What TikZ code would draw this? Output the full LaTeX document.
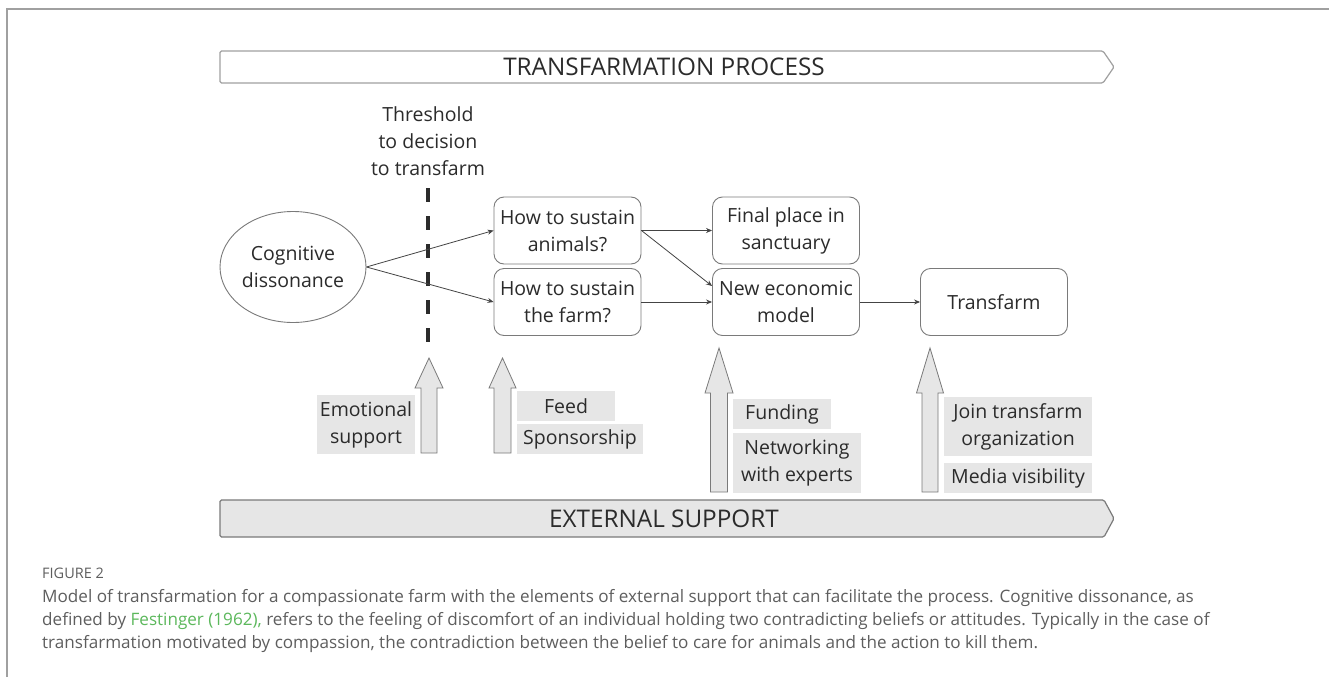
\documentclass[tikz,border=0pt]{standalone}
\usepackage{fontspec}
\setmainfont{Open Sans}
\usetikzlibrary{arrows.meta,shapes.geometric}
\definecolor{txt}{HTML}{2B2B2B}
\definecolor{edgec}{HTML}{7A7A7A}
\definecolor{lgray}{HTML}{E6E6E6}
\definecolor{capgray}{HTML}{5E5E5E}
\definecolor{capgreen}{HTML}{5CB85C}
\definecolor{framec}{HTML}{A0A0A0}
\definecolor{linec}{HTML}{444444}
\newcommand{\blockup}[6]{%
  \draw[blockarrow] ({#1-#5},#4) -- ({#1-#5},#3) -- ({#1-#6},#3) -- (#1,#2)
    -- ({#1+#6},#3) -- ({#1+#5},#3) -- ({#1+#5},#4) -- cycle;}
\begin{document}
\begin{tikzpicture}[x=1pt,y=-1pt,
  font=\fontsize{19.5}{27}\selectfont,
  every node/.style={text=txt},
  stepbox/.style={draw=edgec, line width=0.9pt, rounded corners=10pt, minimum width=147pt,
    minimum height=67pt, align=center, inner sep=0pt},
  lab/.style={fill=lgray, align=center, inner sep=0pt},
  conn/.style={draw=linec, line width=0.8pt, -{Stealth[length=6pt,width=5pt]}},
  blockarrow/.style={draw=edgec, fill=lgray, line width=0.8pt},
  bigtext/.style={font=\fontsize{24.3}{29}\selectfont},
  capline/.style={anchor=base west, text=capgray, font=\fontsize{17.1}{23}\selectfont, inner sep=0pt}]
\useasboundingbox (0,0) rectangle (1329,677);
\fill[white] (0,0) rectangle (1329,677);
% frame
\draw[framec, line width=1.5pt] (7,677) -- (7,9) -- (1329,9);
% process banner
\draw[draw=framec, fill=white, line width=1.2pt, rounded corners=1.5pt]
  (220,51) -- (1103,51) -- (1114,67) -- (1103,83) -- (220,83) -- cycle;
\node[bigtext] (tp) at (664,67) {TRANSFARMATION PROCESS};
% external support banner
\draw[draw=edgec, fill=lgray, line width=1.2pt, rounded corners=1.5pt]
  (220,500) -- (1104,500) -- (1114,518.5) -- (1104,537) -- (220,537) -- cycle;
\node[bigtext] (es) at (664,519) {EXTERNAL SUPPORT};
% threshold
\node[align=center, inner sep=0pt] (th) at (428,141) {Threshold\\to decision\\to transfarm};
\draw[draw=txt, line width=4pt, dash pattern=on 14pt off 14pt] (428,188) -- (428,345);
% nodes
\node[ellipse, draw=edgec, line width=0.9pt, minimum width=146pt, minimum height=111pt,
  align=center, inner sep=0pt] (cd) at (293,267) {Cognitive\\dissonance};
\node[stepbox] (sa) at (567.5,230.5) {How to sustain\\animals?};
\node[stepbox] (sf) at (567.5,302) {How to sustain\\the farm?};
\node[stepbox] (fp) at (786,230.5) {Final place in\\sanctuary};
\node[stepbox] (ne) at (786,302) {New economic\\model};
\node[stepbox] (tf) at (994,302) {Transfarm};
% connectors
\draw[conn] (cd.east) -- (sa.west);
\draw[conn] (cd.east) -- (sf.west);
\draw[conn] (sa.east) -- (fp.west);
\draw[conn] (sa.east) -- ([yshift=16pt]ne.west);
\draw[conn] (sf.east) -- (ne.west);
\draw[conn] (ne.east) -- (tf.west);
% block arrows
\blockup{429}{358}{388}{453}{8}{14}
\blockup{502.5}{358}{388}{453}{8.5}{13.5}
\blockup{719}{348}{393}{492}{8.5}{14}
\blockup{930}{348}{393}{492}{8}{13.5}
% labels
\node[lab, minimum width=98pt, minimum height=59pt] (l1) at (366,424.5) {Emotional\\support};
\node[lab, minimum width=98pt, minimum height=30pt] (l2) at (566,406) {Feed};
\node[lab, minimum width=126pt, minimum height=30pt] (l3) at (580,439) {Sponsorship};
\node[lab, minimum width=98pt, minimum height=30pt] (l4) at (782,414) {Funding};
\node[lab, minimum width=128pt, minimum height=60pt] (l5) at (797,463) {Networking\\with experts};
\node[lab, minimum width=148pt, minimum height=59pt] (l6) at (1018,426.5) {Join transfarm\\organization};
\node[lab, minimum width=148pt, minimum height=30pt] (l7) at (1018,478) {Media visibility};
% caption
\node[capline, font=\fontsize{14.5}{17}\selectfont] (fig) at (42,578) {FIGURE 2};
\node[capline] (c1) at (42,602) {Model of transfarmation for a compassionate farm with the elements of external support that can facilitate the process. Cognitive dissonance, as};
\node[capline] (c2) at (42,625) {defined by \textcolor{capgreen}{Festinger (1962),} refers to the feeling of discomfort of an individual holding two contradicting beliefs or attitudes. Typically in the case of};
\node[capline] (c3) at (42,648) {transfarmation motivated by compassion, the contradiction between the belief to care for animals and the action to kill them.};
\end{tikzpicture}
\end{document}
